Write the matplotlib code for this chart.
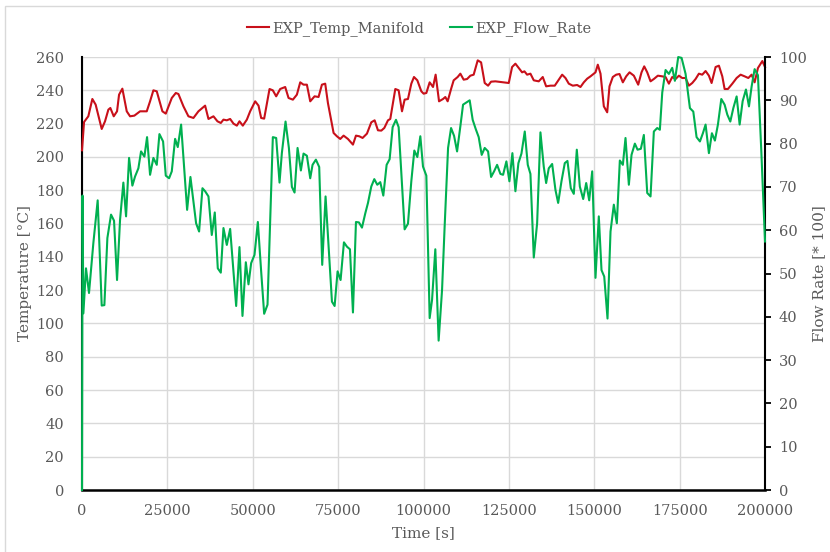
import matplotlib
matplotlib.use("Agg")
import matplotlib.pyplot as plt
from matplotlib.patches import Rectangle

# manifold temperature [degC] vs time [s]
temp_time = [0, 600, 1850, 3030, 4000, 5770, 6740, 7720, 8300, 9290, 10260, 10850, 11820,
             13100, 14070, 15330, 17000, 18960, 19930, 20900, 21890, 23540, 24530, 26290,
             27460, 28230, 29700, 31160, 32630, 34090, 36050, 37030, 38490, 39660, 40640,
             41420, 42400, 43380, 44360, 45340, 46110, 47090, 48270, 49240, 50710, 51690,
             52460, 53340, 54910, 55880, 56860, 58030, 59500, 60480, 61750, 62920, 63900,
             64870, 65850, 66830, 68100, 69270, 70250, 71220, 72010, 73670, 74650, 75620,
             76600, 77870, 79340, 80220, 81190, 82160, 83440, 84710, 85690, 86660, 87640,
             88520, 89600, 90270, 91740, 92720, 93700, 94470, 95450, 96430, 97210, 98190,
             99360, 100040, 100830, 101800, 102790, 103550, 104550, 105720, 106390, 107070,
             108070, 108830, 110000, 110790, 111760, 112760, 113720, 114690, 115870, 116860,
             117920, 118910, 119790, 121050, 124960, 125940, 126910, 127890, 128870, 129550,
             130340, 131310, 132290, 133740, 134920, 135910, 137170, 138430, 139610, 140600,
             141570, 142540, 143710, 144990, 145960, 146940, 147930, 148900, 149880, 150360,
             151040, 151830, 152800, 153790, 154460, 155430, 156430, 157390, 158370, 159350,
             160330, 161590, 162870, 163840, 164630, 165510, 166480, 167450, 168620, 169900,
             170880, 171850, 172830, 173810, 174780, 175760, 176740, 177710, 178700, 179670,
             180640, 181620, 182600, 183570, 184360, 185530, 186500, 187490, 188170, 189140,
             190430, 191690, 192860, 194030, 195110, 196080, 196960, 197930, 199220, 200000]
temp_manifold = [204, 221, 224.4, 234.8, 231.4, 216.8, 221.4, 228.4, 229.4, 224.4, 227.4, 237.4, 241,
                 227.4, 224.4, 224.8, 227.4, 227.4, 233.4, 240, 239.4, 227.4, 226, 235.4,
                 238.4, 237.8, 230.4, 224.4, 223.4, 227.4, 230.8, 222.8, 224.4, 221.4, 220.4,
                 222.4, 222, 222.8, 220, 218.8, 221.4, 218.8, 222.4, 227.4, 233.4, 230.8,
                 223.4, 223, 240.8, 240, 236.4, 240.8, 242, 235.4, 234.4, 237.4, 244.8,
                 243.4, 243.4, 233.4, 236.4, 236, 243.4, 244, 232.4, 214.4, 212.4, 210.8,
                 212.8, 210.8, 207.4, 212.8, 212.4, 211.4, 214, 220.8, 222, 216, 215.8,
                 217.4, 222, 222.8, 240.8, 240, 227.4, 234.4, 234.8, 244, 248, 246,
                 239.4, 238, 238.4, 244.8, 242, 249.4, 233.4, 234.8, 236, 233.4,
                 240.8, 246, 248, 250, 246.4, 246.8, 248.8, 249.4, 258, 256.8,
                 244.4, 242.8, 245.2, 245.4, 244.4, 254, 256, 253.4, 250.8, 251.4,
                 249.4, 250, 246, 245.4, 248, 242.4, 242.8, 242.8, 246.4, 249.4,
                 247.4, 244, 242.8, 243.2, 242, 244.8, 247, 248.4, 250, 250.8,
                 255.4, 250, 230.4, 226.8, 242.4, 248, 249.4, 249.8, 244.8, 248.4,
                 250.8, 248.8, 243.4, 250.8, 254.4, 250.8, 245.4, 246.8, 248.8, 248.4,
                 248, 244, 248, 246.8, 248.8, 247.4, 247.4, 242.8, 244.4, 246.8,
                 250, 249.4, 251.6, 248.8, 244.4, 254, 254.8, 248.4, 240.8, 240.8,
                 244, 247.4, 249.4, 248.4, 247.4, 249.4, 244.8, 253.4, 257.6, 254]

# flow rate [* 100] vs time [s]
flow_time = [0, 150, 400, 1170, 2050, 3320, 4590, 5770, 6550, 7430, 8500, 9380, 10260, 11140,
             12110, 12900, 13780, 14750, 15530, 16510, 17290, 18270, 19050, 19930, 20900,
             21890, 22670, 23740, 24530, 25500, 26290, 27260, 28040, 29020, 30780, 31750,
             33410, 34290, 35270, 36050, 37030, 38000, 38880, 39760, 40640, 41420, 42400,
             43380, 44160, 45140, 46110, 46990, 47970, 48750, 49530, 50510, 51490, 52460,
             53340, 54320, 55880, 56860, 57840, 58520, 59600, 60580, 61460, 62240, 63120,
             64090, 64870, 65850, 66830, 67510, 68490, 69460, 70340, 71320, 73190, 73970,
             74840, 75720, 76700, 77580, 78460, 79340, 80220, 81100, 81980, 82950, 83740,
             84710, 85590, 86460, 87340, 88230, 89200, 90080, 90960, 91940, 92720, 94470,
             95450, 96430, 97310, 98190, 99070, 99850, 100830, 101800, 102500, 103460,
             104430, 105430, 106190, 107190, 108070, 108950, 109830, 110790, 111580, 112550,
             113520, 114400, 115280, 116160, 117040, 117920, 118910, 119790, 120670, 121550,
             122520, 123300, 124270, 125150, 126030, 126910, 127790, 128680, 129650, 130530,
             131310, 132290, 133270, 134240, 135210, 135910, 136680, 137670, 138640, 139430,
             140400, 141370, 142150, 143130, 144010, 144890, 145770, 146760, 147640, 148520,
             149400, 150360, 151330, 152120, 152920, 153880, 154760, 155730, 156610, 157490,
             158370, 159150, 160130, 160910, 161890, 162670, 163640, 164520, 165510, 166480,
             167450, 168430, 169210, 169910, 170880, 171850, 172830, 173610, 174590, 175570,
             176740, 178010, 179000, 179960, 180940, 181810, 182600, 183570, 184450, 185330,
             186210, 187200, 188170, 188960, 189840, 190720, 191690, 192570, 193450, 194420,
             195300, 196080, 196960, 197930, 198920, 200000]
flow_rate = [0, 68, 40.8, 51.2, 45.5, 57, 66.9, 42.6, 42.7, 58.2, 63.6, 62.2, 48.5, 62.4,
             71, 63.2, 76.7, 70.3, 72.4, 74.3, 78.2, 77, 81.5, 72.8, 76.7,
             75.1, 82.2, 80.5, 72.6, 72, 73.6, 81.1, 79.2, 84.4, 64.7, 72.3,
             61.6, 59.7, 69.7, 69, 67.8, 58.9, 64.1, 51.2, 50.2, 60.5, 56.6,
             60.3, 52.4, 42.5, 56.1, 40.2, 52.6, 47.5, 52.4, 54.3, 61.9, 50.5,
             40.7, 42.8, 81.5, 81.3, 71, 77.8, 85.1, 79, 70, 68.7, 79,
             73.8, 77.7, 77.2, 72, 75.1, 76.3, 74.6, 52, 67.8, 43.5, 42.5,
             50.5, 48.5, 57.2, 56.2, 55.6, 41, 61.9, 61.8, 60.6, 63.9, 66.3,
             70.1, 71.8, 70.5, 71.1, 68, 75.1, 76.4, 83.8, 85.5, 83.8, 60.2,
             61.5, 71.3, 78.4, 76.9, 81.7, 74.7, 72.6, 39.7, 43.9, 55.6,
             34.5, 46.2, 60.9, 79, 83.6, 81.8, 78.2, 84, 89, 89.5,
             90, 85.5, 83.4, 81.5, 77.4, 79, 78.2, 72.3, 73.6, 75.1,
             73, 72.8, 75.9, 71.3, 77.8, 69, 75.5, 77.7, 82.8, 75.1,
             73, 53.7, 61.6, 82.6, 74.7, 70.9, 74.3, 75.3, 69.3, 66.3,
             71.3, 75.5, 76, 69.7, 68.4, 78.6, 70.1, 67.2, 70.9, 66.9,
             73.6, 49, 63.2, 50.8, 49.3, 39.6, 59.7, 65.9, 61.6, 76.1,
             75.1, 81.3, 70.5, 77.4, 80, 78.6, 78.8, 82, 68.6, 67.8,
             82.8, 83.6, 83.2, 91.8, 97, 96.1, 97.5, 94.5, 100, 99.8,
             96.1, 88.2, 87.4, 81.5, 80.5, 82.4, 84.4, 77.8, 82.4, 80.7,
             84.4, 90.3, 89, 86.7, 85.1, 88.2, 90.9, 84.4, 89.8, 92.5,
             88.6, 93.2, 97.2, 95.8, 78.2, 57.4]

x_ticks = [0, 25000, 50000, 75000, 100000, 125000, 150000, 175000, 200000]

RED = "#C8101A"
GREEN = "#00B050"
GREY_TXT = "#595959"
GRID = "#D9D9D9"

plt.rcParams["font.family"] = ["DejaVu Serif"]

fig = plt.figure(figsize=(8.3, 5.52), dpi=100)
ax1 = fig.add_axes([0.0988, 0.1123, 0.8229, 0.7844])
ax2 = ax1.twinx()

# chart frame (runs off the right and bottom edges)
fig.patches.append(Rectangle((0.006, -0.01), 1.0, 0.999, transform=fig.transFigure,
                             fill=False, edgecolor=GRID, linewidth=1))

l1, = ax1.plot(temp_time, temp_manifold, color=RED, linewidth=1.5, zorder=3,
               label="EXP_Temp_Manifold", clip_on=False)
l2, = ax2.plot(flow_time, flow_rate, color=GREEN, linewidth=1.5, zorder=3,
               label="EXP_Flow_Rate", clip_on=False)

ax1.set_xlim(0, 200000)
ax1.set_ylim(0, 260)
ax1.set_yticks(range(0, 261, 20))
ax1.set_xticks(x_ticks)
ax1.set_xticklabels([str(v) for v in x_ticks])
ax2.set_ylim(0, 100)
ax2.set_yticks(range(0, 101, 10))

ax1.grid(True, color=GRID, linewidth=1)
ax1.set_axisbelow(True)

for s in ["top", "right"]:
    ax1.spines[s].set_visible(False)
for s in ["top", "left", "bottom"]:
    ax2.spines[s].set_visible(False)
ax1.spines["left"].set_color("black")
ax1.spines["left"].set_linewidth(1.5)
ax1.spines["bottom"].set_color("black")
ax1.spines["bottom"].set_linewidth(1.8)
ax2.spines["right"].set_color("black")
ax2.spines["right"].set_linewidth(1.5)

ax1.tick_params(axis="both", length=0, labelsize=10.5, labelcolor=GREY_TXT)
ax1.tick_params(axis="y", pad=13)
ax1.tick_params(axis="x", pad=10)
ax2.tick_params(axis="y", length=4, width=1.3, color="black", direction="out",
                labelsize=10.5, labelcolor=GREY_TXT, pad=6)

ax1.set_xlabel("Time [s]", fontsize=11, color=GREY_TXT, labelpad=6)
ax1.set_ylabel("Temperature [°C]", fontsize=11, color=GREY_TXT, labelpad=3)
ax2.set_ylabel("Flow Rate [* 100]", fontsize=11, color=GREY_TXT, rotation=90, labelpad=4)

fig.legend(handles=[l1, l2], loc="center", bbox_to_anchor=(0.505, 0.949), ncol=2,
           frameon=False, fontsize=10.5, labelcolor=GREY_TXT, handlelength=1.5,
           handletextpad=0.2, columnspacing=1.8)

fig.savefig("out.png", dpi=100)
